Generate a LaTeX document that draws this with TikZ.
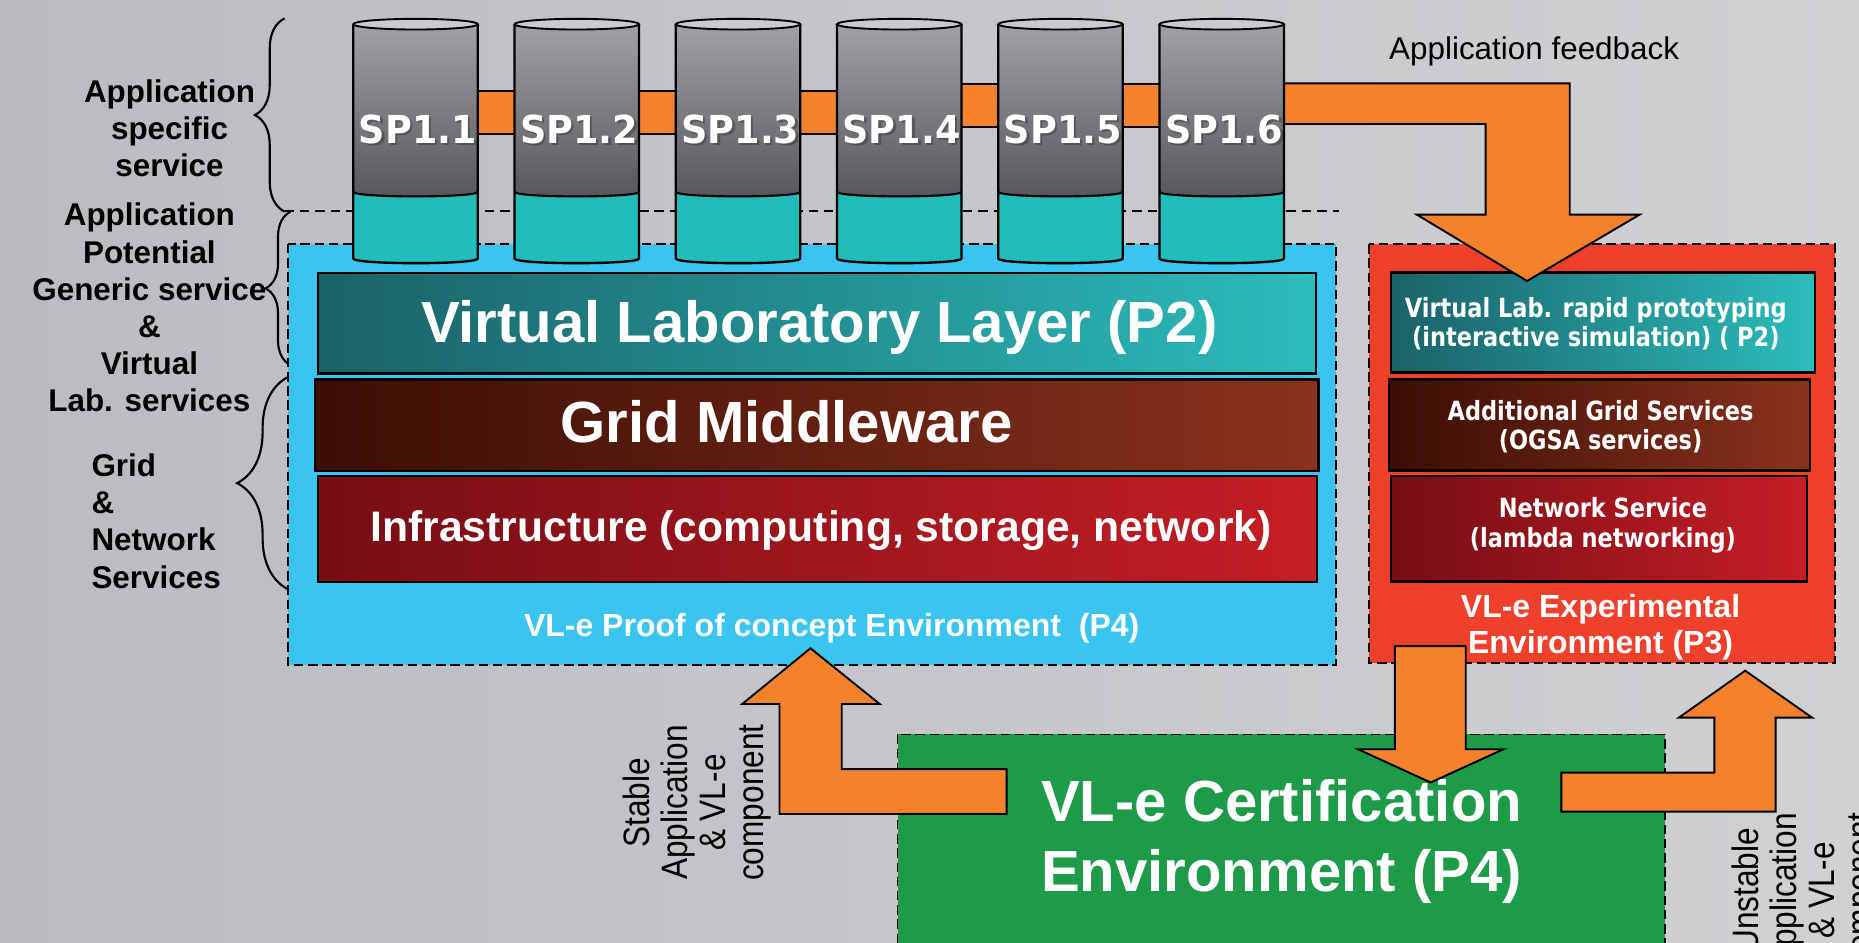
\documentclass[tikz,border=0pt]{standalone}
\usepackage{fontspec}
\setmainfont{Liberation Sans}
\newfontfamily\dvfont[FakeStretch=0.85]{DejaVu Sans}
\newfontfamily\spfont[FakeStretch=0.95]{DejaVu Sans}
\newfontfamily\condfont[FakeStretch=0.86]{Liberation Sans}
\usetikzlibrary{decorations.pathreplacing}
\definecolor{bgA}{RGB}{186,188,192}
\definecolor{bgB}{RGB}{208,209,211}
\definecolor{blueenv}{RGB}{57,197,240}
\definecolor{redenv}{RGB}{239,64,44}
\definecolor{greenenv}{RGB}{29,155,73}
\definecolor{orangeA}{RGB}{244,129,44}
\definecolor{cylT}{RGB}{160,162,166}
\definecolor{cylB}{RGB}{86,87,91}
\definecolor{cylTeal}{RGB}{33,188,188}
\definecolor{cylTop}{RGB}{202,203,206}
\definecolor{vllA}{RGB}{26,98,104}
\definecolor{vllB}{RGB}{44,188,188}
\definecolor{gmA}{RGB}{60,14,4}
\definecolor{gmB}{RGB}{138,50,30}
\definecolor{infA}{RGB}{118,14,20}
\definecolor{infB}{RGB}{198,30,38}
\tikzset{
  dashbox/.style={draw=black, line width=1.6pt, dash pattern=on 8pt off 4pt},
  layerbox/.style={draw=black, line width=2pt},
  orangebox/.style={fill=orangeA, draw=black, line width=1.6pt, line join=miter},
  bracestyle/.style={decorate, line width=1.8pt, draw=black},
  lefttext/.style={inner sep=0pt, align=center, font=\fontsize{26.5}{31.4}\selectfont\bfseries},
  bigwhite/.style={inner sep=0pt, text=white, align=center, font=\fontsize{49}{59}\selectfont\bfseries},
  midwhite/.style={inner sep=0pt, text=white, align=center, font=\fontsize{27}{30.5}\selectfont\bfseries},
  panelwhite/.style={inner sep=0pt, text=white, align=center, font=\dvfont\fontsize{22.3}{24.8}\selectfont\bfseries},
  sptext/.style={inner sep=0pt, text=white, font=\spfont\fontsize{32.5}{36}\selectfont\bfseries},
  rottext/.style={inner sep=0pt, rotate=90, align=center, font=\condfont\fontsize{31}{32}\selectfont}
}
\begin{document}
\begin{tikzpicture}[x=1pt,y=-1pt]
\useasboundingbox (0,0) rectangle (1568,795);
\fill[left color=bgA, right color=bgB] (0,0) rectangle (1568,795);

% braces
\draw[bracestyle, decoration={brace, amplitude=25pt}] (240,178.5) -- (240,15.5);
\draw[bracestyle, decoration={brace, amplitude=21pt}] (245,308) -- (245,178.5);
\draw[bracestyle, decoration={brace, amplitude=43pt}] (243,497) -- (243,318);

% dashed separator
\coordinate (dl1) at (240,178);
\coordinate (dl2) at (1129,178);
\draw[line width=1.8pt, dash pattern=on 8pt off 5pt] (dl1) -- (dl2);

% environments
\draw[dashbox, fill=blueenv] (243,205.8) rectangle (1127,561);
\draw[dashbox, fill=redenv] (1155,206) rectangle (1547.5,559.5);
\draw[dashbox, fill=greenenv] (757,619.5) rectangle (1404,830);

% layers in proof of concept environment
\draw[layerbox, left color=vllA, right color=vllB] (268,230) rectangle (1110,315);
\draw[layerbox, left color=gmA, right color=gmB] (265.5,320) rectangle (1112,397.5);
\draw[layerbox, left color=infA, right color=infB] (268,401.5) rectangle (1111,491);
\node[bigwhite, anchor=base] (vll) at (691,289) {Virtual Laboratory Layer (P2)};
\node[bigwhite, anchor=base] (gm) at (663.5,373) {Grid Middleware};
\node[bigwhite, anchor=base, font=\fontsize{36}{40}\selectfont\bfseries] (inf) at (692.5,456.5) {Infrastructure (computing, storage, network)};
\node[midwhite, anchor=base] (poc) at (701.5,536.5) {VL-e Proof of concept Environment\ \ (P4)};

% layers in experimental environment
\draw[layerbox, left color=vllA, right color=vllB] (1173,229.7) rectangle (1531,314.3);
\draw[layerbox, left color=gmA, right color=gmB] (1171.6,320) rectangle (1526.7,397);
\draw[layerbox, left color=infA, right color=infB] (1173,401.5) rectangle (1524,490.6);
\node[panelwhite] (vlr) at (1346,273) {Virtual Lab. rapid prototyping\\(interactive simulation) ( P2)};
\node[panelwhite] (ags) at (1350,360) {Additional Grid Services\\(OGSA services)};
\node[panelwhite] (ns) at (1352,443) {Network Service\\(lambda networking)};
\node[midwhite] (exp) at (1350,529) {VL-e Experimental\\Environment (P3)};

% left labels
\node[lefttext] (lab1) at (143,108) {Application\\specific\\service};
\node[lefttext] (lab2) at (126,259.5) {Application\\Potential\\Generic service\\\&\\Virtual\\Lab. services};
\node[lefttext, align=left, anchor=west] (lab3) at (77,439.5) {Grid\\\&\\Network\\Services};

% connecting bars between cylinders
\foreach \a/\b/\t/\u in {350.5/486.5/76.5/113, 486.5/622.5/76.5/113, 622.5/758.5/76.5/113, 758.5/894.5/71/107, 894.5/1030.5/71/107}
  \draw[orangebox] (\a,\t) rectangle (\b,\u);

% application feedback arrow
\draw[orangebox] (1030,70.3) -- (1324,70.3) -- (1324,181) -- (1383,181) -- (1288,237) -- (1195,181) -- (1253,181) -- (1253,104.6) -- (1030,104.6) -- cycle;
\node[inner sep=0pt, font=\fontsize{26.5}{30}\selectfont] (fb) at (1294,43) {Application feedback};

% cylinders
\foreach \i/\L in {1/298,2/434,3/570,4/706,5/842,6/978} {
  \pgfmathsetmacro\R{\L+105}
  \pgfmathsetmacro\C{\L+52.5}
  \fill[top color=cylT, bottom color=cylB] (\L,20.4) -- (\L,161.7) .. controls (\L,167) and (\R,167) .. (\R,161.7) -- (\R,20.4) -- cycle;
  \fill[cylTeal] (\L,161.7) .. controls (\L,167) and (\R,167) .. (\R,161.7) -- (\R,218) .. controls (\R,223.3) and (\L,223.3) .. (\L,218) -- cycle;
  \draw[line width=2pt] (\L,20.4) -- (\L,218) .. controls (\L,223.3) and (\R,223.3) .. (\R,218) -- (\R,20.4);
  \draw[line width=1.8pt] (\L,161.7) .. controls (\L,167) and (\R,167) .. (\R,161.7);
  \filldraw[fill=cylTop, line width=1.6pt] (\C,20.4) ellipse [x radius=52.5pt, y radius=4.5pt];
  \node[sptext, text=black, opacity=0.25] at (\C+4,111) {SP1.\i};
  \node[sptext] (sp\i) at (\C+2,109) {SP1.\i};
}

% certification environment
\node[bigwhite] (cert) at (1081,710) {VL-e Certification\\Environment (P4)};

% stable arrow
\draw[orangebox] (849,648.7) -- (710,648.7) -- (710,593.8) -- (742,593.8) -- (683.6,546.8) -- (626,593.8) -- (657.5,593.8) -- (657.5,686.6) -- (849,686.6) -- cycle;
% down arrow
\draw[orangebox] (1176.5,545) -- (1236.3,545) -- (1236.3,632) -- (1268,632) -- (1206.7,660) -- (1145.5,632) -- (1176.5,632) -- cycle;
% unstable arrow
\draw[orangebox] (1317,651.7) -- (1446,651.7) -- (1446,605.3) -- (1416,605.3) -- (1472,565.7) -- (1528.4,605.3) -- (1497.6,605.3) -- (1497.6,684.6) -- (1317,684.6) -- cycle;

\node[rottext] (stable) at (588,677) {Stable\\Application\\\& VL-e\\component};
\node[rottext] (unstable) at (1523,751) {Unstable\\Application\\\& VL-e\\component};
\end{tikzpicture}
\end{document}
